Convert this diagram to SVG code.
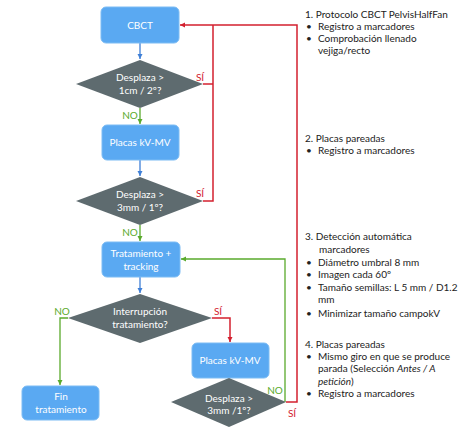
<svg xmlns="http://www.w3.org/2000/svg" width="474" height="434" viewBox="0 0 474 434">
<defs>
<style>
.box{fill:#5aa9f2;stroke:#7cbcf4;stroke-width:1}
.dia{fill:#5e6b6f}
.nt{font-family:Lato,"Open Sans",sans-serif;font-size:10px;fill:#ffffff;text-anchor:middle}
.rt{font-family:Lato,"Open Sans",sans-serif;font-size:10px;fill:#222222}
.lab{font-family:Lato,"Open Sans",sans-serif;font-size:10px}
.blue{stroke:#3f7fd6;stroke-width:1.3;fill:none}
.green{stroke:#5aaa2c;stroke-width:1.3;fill:none}
.red{stroke:#d3202f;stroke-width:1.5;fill:none}
</style>
<marker id="ab" markerWidth="6" markerHeight="6" refX="5" refY="3" orient="auto" markerUnits="userSpaceOnUse"><path d="M0,0.5 L5,3 L0,5.5z" fill="#3f7fd6"/></marker>
<marker id="ag" markerWidth="6" markerHeight="6" refX="5" refY="3" orient="auto" markerUnits="userSpaceOnUse"><path d="M0,0.5 L5,3 L0,5.5z" fill="#5aaa2c"/></marker>
<marker id="ar" markerWidth="6" markerHeight="6" refX="5" refY="3" orient="auto" markerUnits="userSpaceOnUse"><path d="M0,0.5 L5,3 L0,5.5z" fill="#d3202f"/></marker>
</defs>
<rect width="474" height="434" fill="#ffffff"/>
<g id="connectors">
<path class="blue" d="M140,43 V59" marker-end="url(#ab)"/>
<path class="green" d="M140,108 V124" marker-end="url(#ag)"/>
<path class="blue" d="M140,160 V176" marker-end="url(#ab)"/>
<path class="green" d="M140,225 V241" marker-end="url(#ag)"/>
<path class="blue" d="M140,277 V293" marker-end="url(#ab)"/>
<path class="green" d="M68,318 H60 V385" marker-end="url(#ag)"/>
<path class="red" d="M212,318 H230 V342" marker-end="url(#ar)"/>
<path class="green" d="M285,402 V259 H181" marker-end="url(#ag)"/>
<path class="red" d="M203,84 H213"/>
<path class="red" d="M203,201 H213 V25"/>
<path class="red" d="M286,402 H297 V25 H180" marker-end="url(#ar)"/>
<text class="lab" x="130" y="119" fill="#5aaa2c" text-anchor="middle">NO</text>
<text class="lab" x="130" y="236" fill="#5aaa2c" text-anchor="middle">NO</text>
<text class="lab" x="62" y="315" fill="#5aaa2c" text-anchor="middle">NO</text>
<text class="lab" x="275" y="394" fill="#5aaa2c" text-anchor="middle">NO</text>
<text class="lab" x="200" y="81" fill="#d3202f" text-anchor="middle">SÍ</text>
<text class="lab" x="200" y="197" fill="#d3202f" text-anchor="middle">SÍ</text>
<text class="lab" x="218" y="315" fill="#d3202f" text-anchor="middle">SÍ</text>
<text class="lab" x="292" y="417" fill="#d3202f" text-anchor="middle">SÍ</text>
</g>
<g id="cbct"><rect class="box" x="101" y="7" width="78" height="36" rx="5"/><text class="nt" x="140" y="29">CBCT</text></g>
<g id="d1"><path class="dia" d="M76,84 L140,60 L203,84 L140,108z"/><text class="nt" x="140" y="81">Desplaza &gt;</text><text class="nt" x="140" y="94">1cm / 2º?</text></g>
<g id="placas1"><rect class="box" x="102" y="125" width="77" height="35" rx="5"/><text class="nt" x="140" y="146">Placas kV-MV</text></g>
<g id="d2"><path class="dia" d="M76,201 L140,177 L203,201 L140,225z"/><text class="nt" x="140" y="198">Desplaza &gt;</text><text class="nt" x="140" y="211">3mm / 1º?</text></g>
<g id="tratamiento"><rect class="box" x="102" y="242" width="78" height="35" rx="5"/><text class="nt" x="141" y="257">Tratamiento +</text><text class="nt" x="141" y="270">tracking</text></g>
<g id="d3"><path class="dia" d="M68,318 L140,294 L212,318 L140,343z"/><text class="nt" x="140" y="315">Interrupción</text><text class="nt" x="140" y="328">tratamiento?</text></g>
<g id="fin"><rect class="box" x="22" y="386" width="77" height="34" rx="5"/><text class="nt" x="61" y="400">Fin</text><text class="nt" x="61" y="413">tratamiento</text></g>
<g id="placas2"><rect class="box" x="192" y="343" width="77" height="35" rx="5"/><text class="nt" x="230" y="364">Placas kV-MV</text></g>
<g id="d4"><path class="dia" d="M171,402 L229,378 L286,402 L229,427z"/><text class="nt" x="229" y="402">Desplaza &gt;</text><text class="nt" x="229" y="414">3mm /1º?</text></g>
<g id="notes" class="rt">
<text x="305" y="18">1.  Protocolo CBCT PelvisHalfFan</text>
<text x="306" y="30">•</text><text x="318" y="30">Registro a marcadores</text>
<text x="306" y="42">•</text><text x="318" y="42">Comprobación llenado</text>
<text x="318" y="54">vejiga/recto</text>
<text x="305" y="142">2.  Placas pareadas</text>
<text x="306" y="154">•</text><text x="318" y="154">Registro a marcadores</text>
<text x="305" y="240">3.  Detección automática</text>
<text x="319" y="253">marcadores</text>
<text x="306" y="266">•</text><text x="318" y="266">Diámetro umbral 8 mm</text>
<text x="306" y="278">•</text><text x="318" y="278">Imagen cada 60º</text>
<text x="306" y="291">•</text><text x="318" y="291">Tamaño semillas: L 5 mm / D1.2</text>
<text x="318" y="303">mm</text>
<text x="306" y="317">•</text><text x="318" y="317">Minimizar tamaño campokV</text>
<text x="305" y="348">4.  Placas pareadas</text>
<text x="306" y="360">•</text><text x="318" y="360">Mismo giro en que se produce</text>
<text x="318" y="372">parada (Selección <tspan font-style="italic">Antes / A</tspan></text>
<text x="318" y="385"><tspan font-style="italic">petición</tspan>)</text>
<text x="306" y="397">•</text><text x="318" y="397">Registro a marcadores</text>
</g>
</svg>
